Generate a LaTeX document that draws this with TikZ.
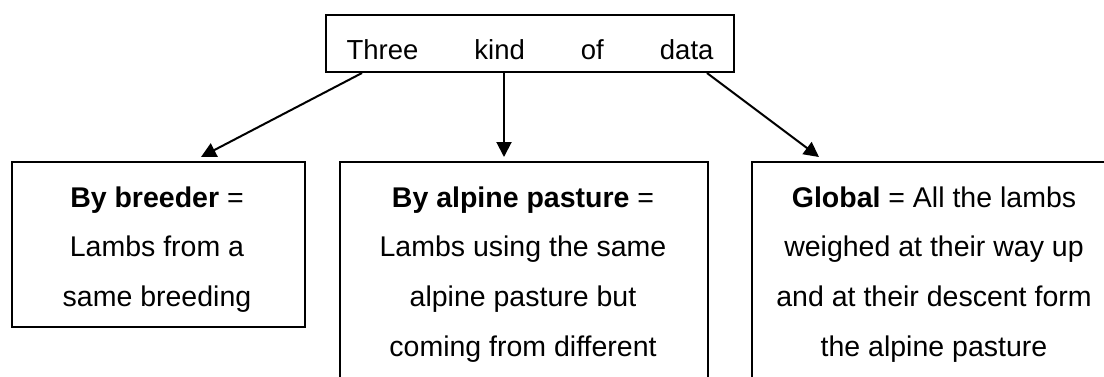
\documentclass[tikz,border=0pt]{standalone}
\usepackage{fontspec}
\setmainfont{Liberation Sans}
\usetikzlibrary{arrows.meta}
\tikzset{
  boxline/.style={draw=black, line width=2pt},
  databox/.style={boxline, rectangle, inner sep=0pt, anchor=north west},
  boxtext/.style={anchor=north, inner sep=0pt, align=center, font=\fontsize{28.5}{49.7}\selectfont},
  conn/.style={line width=2pt, -{Triangle[length=15pt,width=15pt]}}
}
\begin{document}
\begin{tikzpicture}[x=1pt,y=-1pt]
\useasboundingbox (0,0) rectangle (1104,376);
\clip (0,0) rectangle (1104,376);
% top box
\node[databox, minimum width=408pt, minimum height=57pt, text height=44pt, text depth=13pt, font=\fontsize{27.5}{30}\selectfont] (top) at (325,14)
  {\makebox[367pt]{Three\hfill kind\hfill of\hfill data}};
% lower boxes
\node[databox, minimum width=293pt, minimum height=165pt] (left) at (11,161) {};
\node[databox, minimum width=368pt, minimum height=260pt] (mid) at (339,161) {};
\node[databox, minimum width=400pt, minimum height=260pt] (right) at (751,161) {};
% texts
\node[boxtext] (lefttext) at (157,185) {\rule{0pt}{22pt}\textbf{By breeder} =\\Lambs from a\\same breeding};
\node[boxtext] (midtext) at (523,185) {\rule{0pt}{22pt}\textbf{By alpine pasture} =\\Lambs using the same\\alpine pasture but\\coming from different};
\node[boxtext] (righttext) at (934,185) {\rule{0pt}{22pt}\textbf{Global} = All the lambs\\weighed at their way up\\and at their descent form\\the alpine pasture};
% connectors
\draw[conn] ([xshift=37pt]top.south west) -- ([xshift=190pt,yshift=4pt]left.north west);
\draw[conn] ([xshift=179pt]top.south west) -- ([xshift=165pt,yshift=4pt]mid.north west);
\draw[conn] ([xshift=382pt]top.south west) -- ([xshift=68pt,yshift=4pt]right.north west);
\end{tikzpicture}
\end{document}
